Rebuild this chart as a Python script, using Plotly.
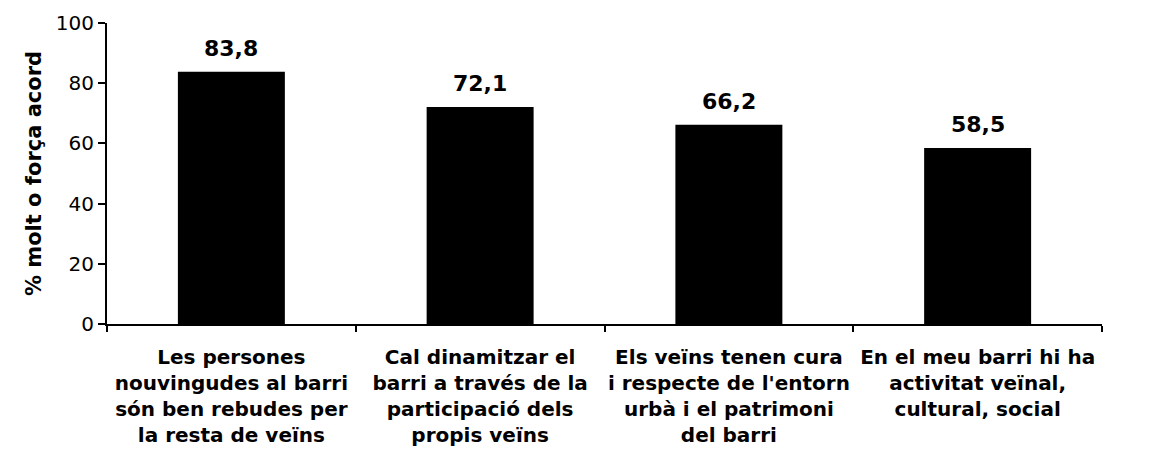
import plotly.graph_objects as go

categories = [
    "Les persones<br>nouvingudes al barri<br>són ben rebudes per<br>la resta de veïns",
    "Cal dinamitzar el<br>barri a través de la<br>participació dels<br>propis veïns",
    "Els veïns tenen cura<br>i respecte de l'entorn<br>urbà i el patrimoni<br>del barri",
    "En el meu barri hi ha<br>activitat veïnal,<br>cultural, social",
]
values = [83.8, 72.1, 66.2, 58.5]
value_labels = ["83,8", "72,1", "66,2", "58,5"]
y_ticks = [0, 20, 40, 60, 80, 100]
y_title = "% molt o força acord"

fig = go.Figure(
    go.Bar(
        x=categories,
        y=values,
        marker=dict(color="black", line=dict(color="black", width=0)),
        width=0.43,
    )
)

for c, v, t in zip(categories, values, value_labels):
    fig.add_annotation(
        x=c, y=v, text=t, showarrow=False, yanchor="bottom", yshift=9,
        font=dict(family="DejaVu Sans", size=22, color="black", weight="bold"),
    )

fig.update_layout(
    width=1153,
    height=452,
    margin=dict(l=99, r=59, t=15, b=136),
    paper_bgcolor="white",
    plot_bgcolor="white",
    showlegend=False,
    font=dict(family="DejaVu Sans", color="black"),
)

fig.update_xaxes(
    type="category",
    tickson="boundaries",
    tickangle=0,
    ticks="outside",
    ticklen=6,
    tickwidth=2,
    tickcolor="black",
    showline=True,
    linecolor="black",
    linewidth=2,
    tickfont=dict(family="DejaVu Sans", size=20, color="black", weight="bold"),
    ticklabelstandoff=14,
    showgrid=False,
    zeroline=False,
    automargin=False,
)

fig.update_yaxes(
    range=[0, 100],
    tickvals=y_ticks,
    ticks="outside",
    ticklen=7,
    tickwidth=2,
    tickcolor="black",
    showline=True,
    linecolor="black",
    linewidth=2,
    tickfont=dict(family="DejaVu Sans", size=20, color="black"),
    showgrid=False,
    zeroline=False,
    automargin=False,
    title=dict(text=y_title, font=dict(family="DejaVu Sans", size=21, color="black", weight="bold"), standoff=8),
)

fig.write_html("out.html")
